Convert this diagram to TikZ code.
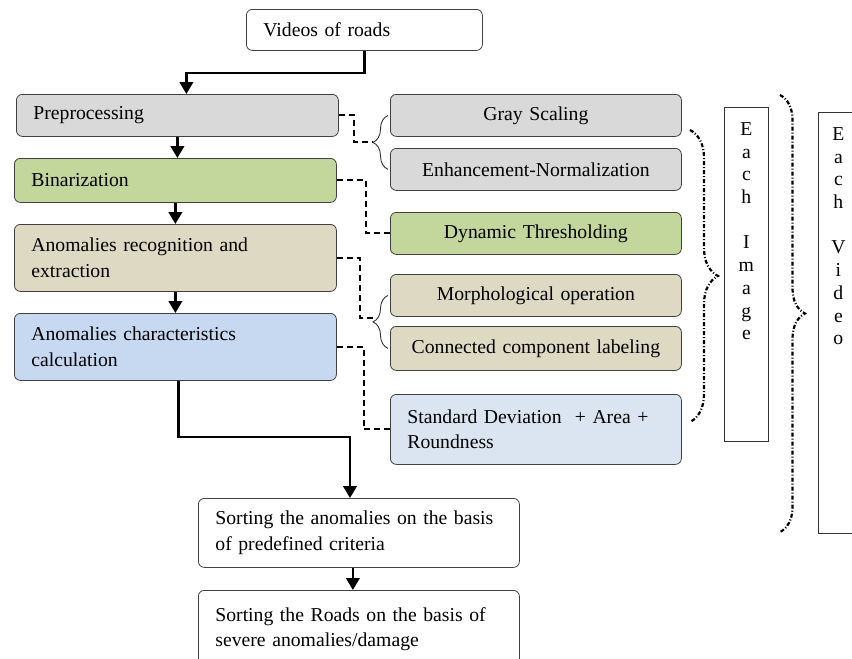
\documentclass[tikz,border=0pt]{standalone}
\usepackage{fontspec}
\setmainfont{Liberation Serif}
\usepackage{tikz}
\usetikzlibrary{arrows.meta,decorations.pathreplacing,positioning}

\definecolor{boxgray}{HTML}{D9D9D9}
\definecolor{boxgreen}{HTML}{C3D69B}
\definecolor{boxtan}{HTML}{DDD9C3}
\definecolor{boxblue}{HTML}{C6D9F1}
\definecolor{boxpale}{HTML}{DBE5F1}

\begin{document}
\begin{tikzpicture}[x=1pt,y=-1pt,
  every node/.style={font=\fontsize{19.7}{25.5}\selectfont},
  stage/.style={draw=black!75,line width=0.8pt,rounded corners=6pt,anchor=north west,minimum height=42pt,inner xsep=17pt,align=left},
  substage/.style={stage,minimum width=291pt,text width=271pt,inner xsep=10pt,align=center},
  column/.style={draw=black!80,line width=0.8pt,anchor=north west,minimum width=44pt},
  letters/.style={anchor=north,align=center,yshift=-12pt,font=\fontsize{19.7}{22.7}\selectfont},
  flow/.style={line width=2.6pt,-{Triangle[length=12pt,width=13.5pt]}},
  dashlink/.style={line width=2pt,dash pattern=on 6pt off 4pt},
  smallbrace/.style={decorate,decoration={brace,amplitude=15pt},line width=0.9pt,black!80},
  loopbrace/.style={decorate,decoration={brace,amplitude=#1},line width=2.2pt,dash pattern=on 4pt off 2pt on 1pt off 2pt}]
  \path[use as bounding box,fill=white] (0,0) rectangle (852,659);
  \clip (0,0) rectangle (852,659);

  \node[stage,text width=202pt,minimum height=41pt] (videos) at (246,9) {Videos of roads};
  \node[stage,fill=boxgray,text width=288pt] (prep) at (16,94) {Preprocessing};
  \node[stage,fill=boxgreen,text width=288pt,minimum height=44pt] (bin) at (14,158) {Binarization};
  \node[stage,fill=boxtan,text width=288pt,minimum height=67pt] (anrec) at (14,224) {Anomalies recognition and\\extraction};
  \node[stage,fill=boxblue,text width=288pt,minimum height=67pt] (anchar) at (14,313) {Anomalies characteristics\\calculation};
  \node[stage,text width=287pt,minimum height=69pt] (sort1) at (198,498) {Sorting the anomalies on the basis\\of predefined criteria};
  \node[stage,text width=287pt,minimum height=78pt] (sort2) at (198,590) {Sorting the Roads on the basis of\\severe anomalies/damage};

  \node[substage,fill=boxgray] (gray) at (390,94) {Gray Scaling};
  \node[substage,fill=boxgray] (enh) at (390,148) {Enhancement-Normalization};
  \node[substage,fill=boxgreen] (thresh) at (390,212) {Dynamic Thresholding};
  \node[substage,fill=boxtan] (morph) at (390,274) {Morphological operation};
  \node[substage,fill=boxtan,minimum height=44pt] (ccl) at (390,326) {Connected component labeling};
  \node[substage,fill=boxpale,minimum height=70pt,align=left,inner xsep=17pt,text width=257pt] (stdev) at (390,394) {Standard Deviation\ \ + Area +\\Roundness};

  \node[column,minimum height=334pt,label={[letters]north:{E\\a\\c\\h\\[22.7pt]I\\m\\a\\g\\e}}] (imgcol) at (724,107) {};
  \node[column,minimum height=421pt,label={[letters,xshift=-2pt]north:{E\\a\\c\\h\\[22.7pt]V\\i\\d\\e\\o}}] (vidcol) at (818,112) {};

  \coordinate (turn) at (350,437);
  \draw[flow] (videos.south) -- ++(0,22) -| ([xshift=9pt]prep.north);
  \draw[flow] (prep.south) -- (prep.south |- bin.north);
  \draw[flow] (bin.south) -- (bin.south |- anrec.north);
  \draw[flow] (anrec.south) -- (anrec.south |- anchar.north);
  \draw[flow] ([xshift=3pt]anchar.south) |- (turn) -- (turn |- sort1.north);
  \draw[flow] ([xshift=-6pt]sort1.south) -- ([xshift=-6pt]sort1.south |- sort2.north);

  \coordinate (tipA) at (373,142);
  \coordinate (tipB) at (373,318);
  \draw[smallbrace] ([xshift=-2pt]enh.west) -- ([xshift=-2pt]gray.west);
  \draw[smallbrace] ([xshift=-2pt]ccl.west) -- ([xshift=-2pt]morph.west);
  \draw[dashlink] (prep.east) -- ++(15,0) |- (tipA);
  \draw[dashlink] (bin.east) -- ++(29,0) |- (thresh.west);
  \draw[dashlink] (anrec.east) -- ++(23,0) |- (tipB);
  \draw[dashlink] (anchar.east) -- ++(27,0) |- (stdev.west);

  \draw[loopbrace=28pt] (690,130) -- (690,422);
  \draw[loopbrace=25pt] (780,95) -- (780,532);
\end{tikzpicture}
\end{document}
